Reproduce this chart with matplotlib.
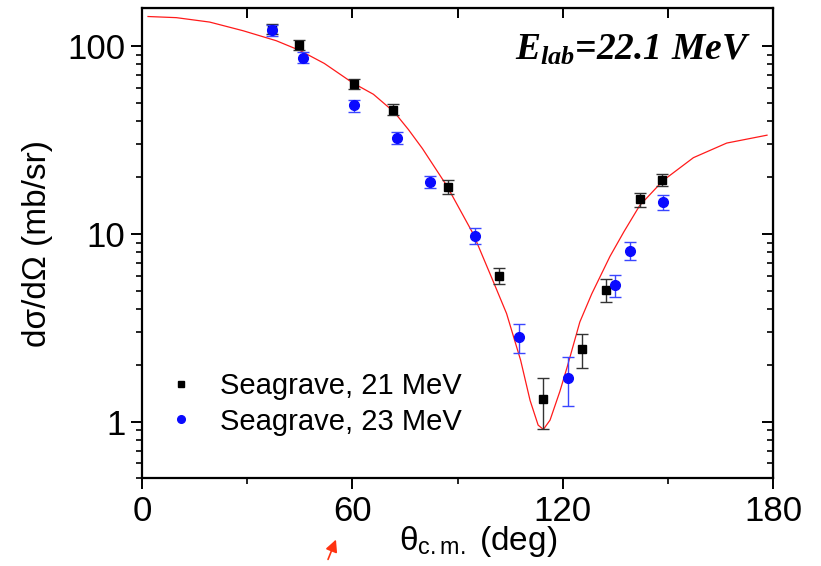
import matplotlib
matplotlib.use('Agg')
import matplotlib.pyplot as plt
from matplotlib.lines import Line2D
from matplotlib.patches import FancyArrowPatch
from matplotlib.ticker import FixedLocator, LogLocator, NullFormatter
import numpy as np

plt.rcParams['font.family'] = ['Liberation Sans', 'DejaVu Sans']
plt.rcParams['mathtext.fontset'] = 'custom'
plt.rcParams['mathtext.it'] = 'Liberation Serif:italic:bold'
plt.rcParams['mathtext.rm'] = 'Liberation Sans'

# Seagrave, 21 MeV
th21 = [37.0, 44.8, 60.6, 71.6, 87.2, 101.8, 114.4, 125.5, 132.3, 142.0, 148.3]
xs21 = [124, 102, 63, 46, 17.8, 6.0, 1.32, 2.43, 5.06, 15.3, 19.5]
er21 = [8, 6, 4, 3, 1.5, 0.6, 0.4, 0.5, 0.7, 1.3, 1.5]

# Seagrave, 23 MeV
th23 = [37.0, 45.9, 60.6, 72.6, 82.1, 95.0, 107.5, 121.6, 135.0, 139.2, 148.5]
xs23 = [122, 87, 48.4, 32.6, 18.9, 9.8, 2.83, 1.71, 5.33, 8.13, 14.8]
er23 = [8, 6, 3.5, 2.5, 1.4, 0.9, 0.5, 0.5, 0.7, 0.9, 1.4]

# calculation (red curve)
th_calc = [1.7, 9.8, 19.3, 28.8, 38.3, 45, 52, 60, 66, 72, 76, 80, 87, 94.5,
           100, 104, 108, 110.7, 113, 114.5, 116.4, 119.2, 121.3, 124.9,
           128.3, 133.5, 137.5, 142, 148.7, 157.3, 166.8, 178.3]
xs_calc = [144, 142, 134.5, 121, 107, 95, 81, 64, 55.5, 44.5, 36, 28.5, 18, 10.0,
           5.7, 3.77, 2.13, 1.30, 0.96, 0.91, 1.02, 1.45, 1.96, 3.4,
           4.8, 7.6, 10.3, 14.2, 19.3, 25.5, 30.5, 33.6]

fig = plt.figure(figsize=(8.21, 5.66), dpi=100)
ax = fig.add_axes([0.173, 0.155, 0.7685, 0.831])

ax.plot(th_calc, xs_calc, color='#ff1a1a', lw=0.9, zorder=2)
ax.errorbar(th21, xs21, yerr=er21, fmt='s', color='black', ms=6,
            ecolor='#333333', elinewidth=1.0, capsize=4, capthick=1.0, zorder=3)
ax.errorbar(th23, xs23, yerr=er23, fmt='o', color='#0a0aff', ms=7,
            ecolor='#3a46ff', elinewidth=1.0, capsize=4, capthick=1.0, zorder=4)

ax.set_yscale('log')
ax.set_xlim(0, 180)
ax.set_ylim(0.5, 160)
ax.set_xticks([0, 60, 120, 180])
ax.xaxis.set_minor_locator(FixedLocator([30, 90, 150]))
ax.set_yticks([1, 10, 100])
ax.set_yticklabels(['1', '10', '100'])
ax.yaxis.set_minor_locator(LogLocator(base=10, subs=np.arange(2, 10)))
ax.yaxis.set_minor_formatter(NullFormatter())

for s in ax.spines.values():
    s.set_linewidth(1.6)
ax.tick_params(which='major', direction='out', length=8, width=1.4,
               labelsize=25, pad=4)
ax.tick_params(which='minor', direction='out', length=4, width=1.2)

# mirrored ticks on the top and right, pointing inwards
ax2 = ax.secondary_xaxis('top')
ax2.set_xticks([0, 30, 60, 90, 120, 150, 180])
ax2.tick_params(direction='in', length=7, width=1.4, labeltop=False)
ax3 = ax.secondary_yaxis('right')
ax3.set_yticks([1, 10, 100])
ax3.yaxis.set_minor_locator(LogLocator(base=10, subs=np.arange(2, 10)))
ax3.yaxis.set_minor_formatter(NullFormatter())
ax3.tick_params(which='major', direction='in', length=8, width=1.4, labelright=False)
ax3.tick_params(which='minor', direction='in', length=4, width=1.2)

ax.set_xlabel(r'θ$_{\mathrm{c.m.}}$ (deg)', fontsize=24)
ax.xaxis.set_label_coords(0.532, -0.098)
ax.set_ylabel('dσ/dΩ (mb/sr)', fontsize=24, labelpad=10)

ax.text(0.965, 0.91, r'$E_{lab}$=22.1 MeV', transform=ax.transAxes,
        ha='right', va='center', fontsize=27, family='Liberation Serif',
        weight='bold', style='italic')

handles = [Line2D([], [], ls='none', marker='s', color='black', ms=5),
           Line2D([], [], ls='none', marker='o', color='#0a0aff', ms=5.5)]
ax.legend(handles, ['Seagrave, 21 MeV', 'Seagrave, 23 MeV'], loc='lower left',
          bbox_to_anchor=(-0.008, 0.035), frameon=False, fontsize=21,
          handletextpad=0.75, labelspacing=0.25, handlelength=1.2)

# small red arrow under the axis
fig.add_artist(FancyArrowPatch((327, 4), (337, 29), transform=None,
                               arrowstyle='-|>', mutation_scale=18,
                               color='#ff3311', lw=1.2))

fig.savefig('out.png', dpi=100)
